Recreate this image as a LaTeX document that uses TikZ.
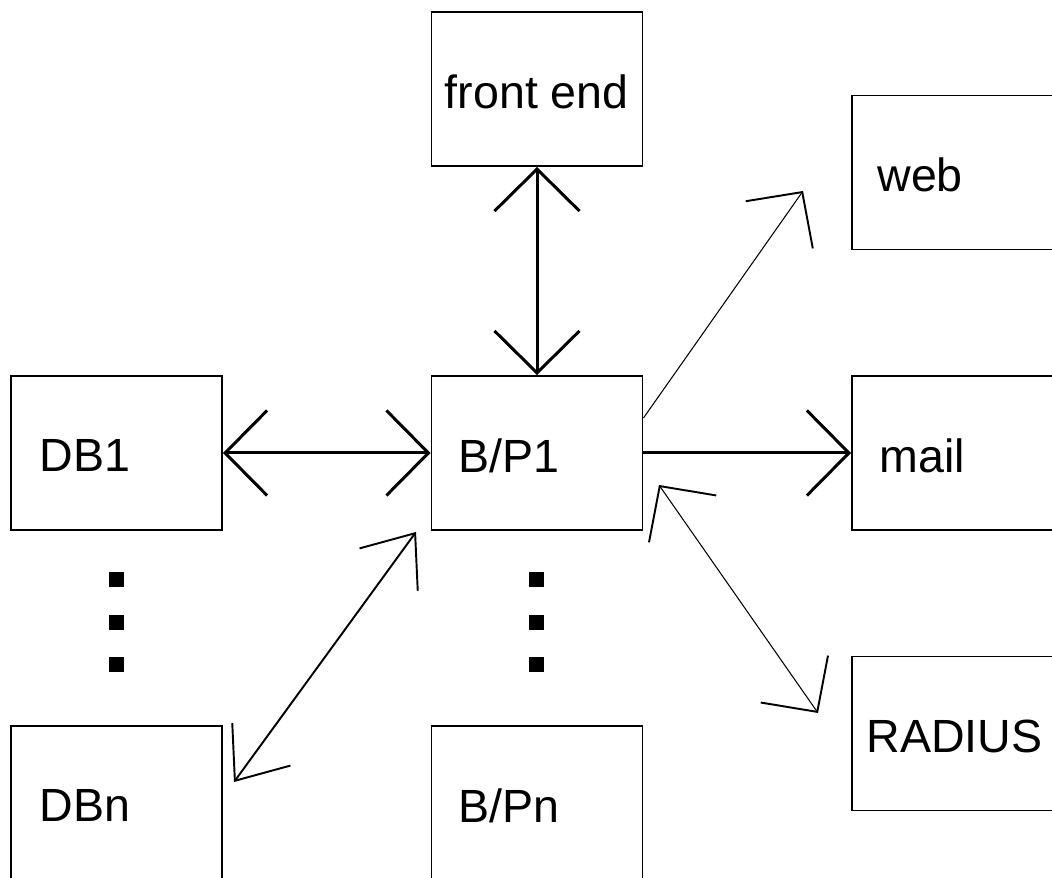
\documentclass[tikz,border=0pt]{standalone}
\usepackage{fontspec}
\setmainfont{Liberation Sans}
\usetikzlibrary{arrows.meta,calc}
\tikzset{
    net diagram/.style = {>={Straight Barb[length=0.84cm, width=1.7cm]}},
    box/.style         = {draw, line width=1.1pt, inner sep=0pt,
                          minimum width=4.22cm, minimum height=3.08cm},
    tag/.style         = {font=\fontsize{26.5}{32}\selectfont,
                          inner sep=0pt, anchor=west, yshift=-0.05cm},
    dot/.style         = {fill, inner sep=0pt, minimum size=0.3cm},
    bold link/.style   = {line width=1.7pt},
    mid link/.style    = {line width=1.1pt,
                          >={Straight Barb[length=0.9cm, width=1.44cm]}},
    thin link/.style   = {line width=0.6pt,
                          >={Straight Barb[length=0.8cm, width=1.64cm,
                                           line width=1.1pt]}}
}

\begin{document}
\begin{tikzpicture}[net diagram]
\useasboundingbox (0,0) rectangle (21.04,17.56);

% ================= Databases (left column) =================
\node[box, label={[tag, xshift=0.58cm]west:DB1}] (db1) at (2.33, 8.50) {};
\node[box, label={[tag, xshift=0.58cm]west:DBn}] (dbn) at (2.33, 1.50) {};
\foreach \i in {1,2,3}
    \node[dot] (dbdot\i) at ($(db1.south)+(0,-0.13-0.85*\i)$) {};

% ================= Processors (middle column) =================
\node[box, label={[tag, xshift=0.28cm]west:front end}] (fe) at (10.74,15.78) {};
\node[box, label={[tag, xshift=0.56cm]west:B/P1}] (bp1) at (10.74, 8.50) {};
\node[box, label={[tag, xshift=0.56cm]west:B/Pn}] (bpn) at (10.74, 1.50) {};
\foreach \i in {1,2,3}
    \node[dot] (bpdot\i) at ($(bp1.south)+(-0.02,-0.13-0.85*\i)$) {};

% ================= Services (right column) =================
\node[box, label={[tag, xshift=0.52cm]west:web}]    (web)    at (19.15,14.11) {};
\node[box, label={[tag, xshift=0.56cm]west:mail}]   (mail)   at (19.15, 8.50) {};
\node[box, label={[tag, xshift=0.30cm]west:RADIUS}] (radius) at (19.15, 2.89) {};

% ================= Links =================
\draw[bold link, <->] (fe) -- (bp1);
\draw[bold link, <->] (db1) -- (bp1);
\draw[bold link, ->]  (bp1) -- (mail);

\draw[mid link, <->] ($(bp1.south west)+(-0.29,-0.02)$)
                  -- ($(dbn.north east)+(0.22,-1.14)$);

\draw[thin link, ->]  ($(bp1.east)+(0,0.70)$) -- ($(web.west)+(-0.96,-0.37)$);
\draw[thin link, <->] ($(bp1.east)+(0.31,-0.64)$)
                   -- ($(radius.west)+(-0.66,0.41)$);

\end{tikzpicture}
\end{document}
